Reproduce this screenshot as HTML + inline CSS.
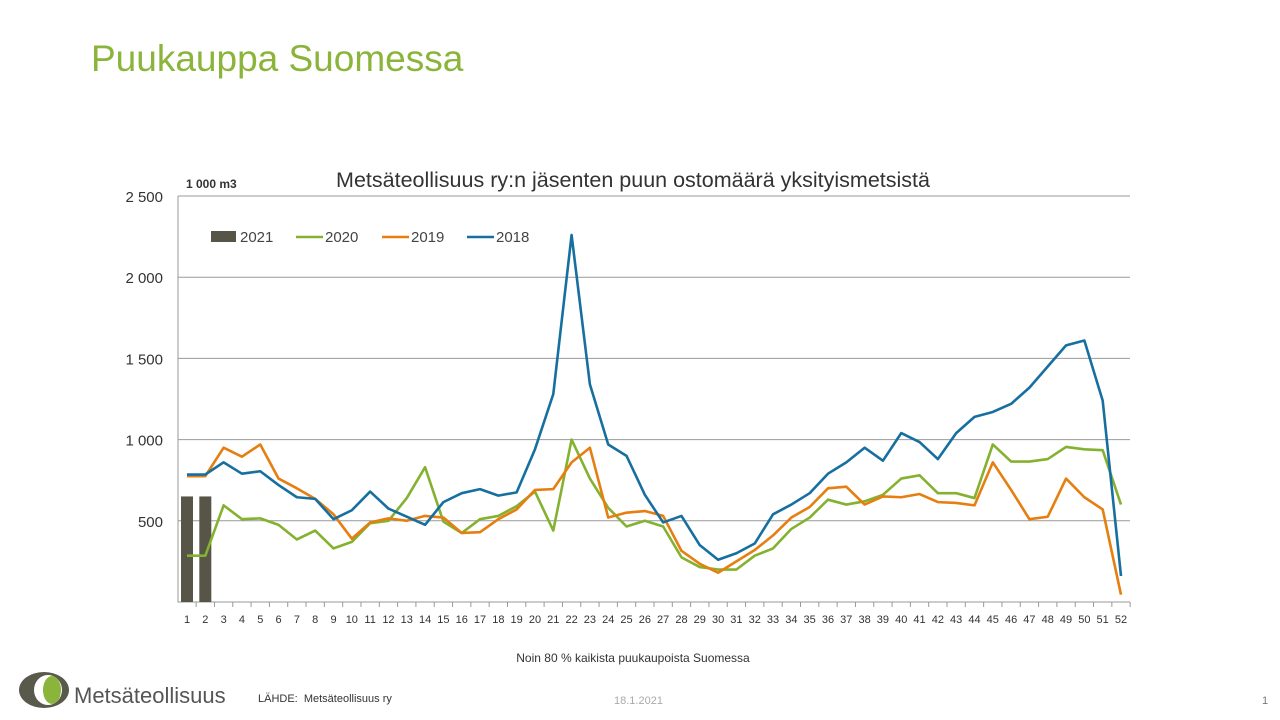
<!DOCTYPE html>
<html><head><meta charset="utf-8"><style>
body{margin:0;width:1280px;height:720px;background:#fff;font-family:"Liberation Sans",sans-serif;overflow:hidden;position:relative}
.t{position:absolute;white-space:nowrap}
</style></head><body>
<div class="t" style="left:91px;top:38px;font-size:37px;color:#8ab43a">Puukauppa Suomessa</div>
<svg id="chart" width="1280" height="720" style="position:absolute;left:0;top:0"></svg>
<div class="t" style="left:18px;top:671px;">
<svg width="52" height="38"><ellipse cx="26" cy="19" rx="25" ry="18" fill="#5a5a4c"/><ellipse cx="30" cy="19" rx="14" ry="15" fill="#fff"/><ellipse cx="34" cy="19" rx="9" ry="14" fill="#8ab43a"/></svg></div>
<div class="t" style="left:74px;top:683px;font-size:22px;color:#555">Metsäteollisuus</div>
<div class="t" style="left:258px;top:693px;font-size:11px;color:#333">LÄHDE:&nbsp; Metsäteollisuus ry</div>
<div class="t" style="left:614px;top:695px;font-size:11px;color:#aaa">18.1.2021</div>
<div class="t" style="left:1262px;top:695px;font-size:11px;color:#777">1</div>
<script>
const weeks=[];for(let i=1;i<=52;i++)weeks.push(i);
const s2018=[785,785,860,790,805,720,645,635,510,565,680,575,525,475,615,670,695,655,675,940,1280,2260,1340,970,900,660,490,530,350,260,300,360,540,600,670,790,860,950,870,1040,985,880,1040,1140,1170,1220,1320,1450,1580,1610,1240,160];
const s2019=[775,775,950,895,970,760,700,635,540,390,490,515,500,530,520,425,430,510,570,690,695,860,950,520,550,560,530,315,235,180,250,320,410,520,585,700,710,600,650,645,665,615,610,595,860,690,510,525,760,645,570,45];
const s2020=[285,285,595,510,515,475,385,440,330,370,485,500,640,830,495,425,510,530,590,680,440,1000,760,580,465,500,465,275,215,200,200,285,330,450,520,630,600,620,660,760,780,670,670,640,970,865,865,880,955,940,935,600];
const s2021=[650,650];
const yTicks=[500,1000,1500,2000,2500];
const yTickLabels=["500","1 000","1 500","2 000","2 500"];
const NS="http://www.w3.org/2000/svg";const svg=document.getElementById('chart');
const x0=178,x1=1130,yb=602,yt=196;
const xs=w=>187+(w-1)*(1121-187)/51;
const ys=v=>yb-v*(yb-yt)/2500;
function mk(t,a,p){const e=document.createElementNS(NS,t);for(const k in a)e.setAttribute(k,a[k]);(p||svg).appendChild(e);return e;}
yTicks.forEach((v,i)=>{
 const l=mk('line',{x1:x0,x2:x1,y1:ys(v),y2:ys(v),stroke:'#999','stroke-width':1});
 
 
 const t=mk('text',{x:163,y:ys(v)+6,'text-anchor':'end','font-size':15,fill:'#333'});t.textContent=yTickLabels[i];
 
 
});
const ax=mk('path',{d:`M${x0} ${yt}V${yb}H${x1}`,stroke:'#999',fill:'none'});


weeks.forEach(w=>{
 const tx=xs(w)+9.15;mk('line',{x1:tx,x2:tx,y1:yb,y2:yb+5,stroke:'#999'});
 const t=mk('text',{x:xs(w),y:623,'text-anchor':'middle','font-size':11,fill:'#333'});t.textContent=w;
 
 
});
s2021.forEach((v,i)=>{
 const r=mk('rect',{x:xs(i+1)-6,y:ys(v),width:12,height:yb-ys(v),fill:'#565548'});
 
 
});
[[s2020,'#84b230','line-2020'],[s2019,'#e67e10','line-2019'],[s2018,'#176fa0','line-2018']].forEach(([d,c,n])=>{
 const p=mk('polyline',{points:d.map((v,i)=>xs(i+1)+','+ys(v)).join(' '),fill:'none',stroke:c,'stroke-width':2.6,'stroke-linejoin':'round'});
 
 
});
const legend=[['2021','#565548',211,true],['2020','#84b230',296],['2019','#e67e10',382],['2018','#176fa0',467]];
legend.forEach(([n,c,x,bar])=>{
 const g=mk('g',{});
 
 
 if(bar)mk('rect',{x:x,y:231,width:25,height:11,fill:c},g);else mk('line',{x1:x,x2:x+27,y1:237,y2:237,stroke:c,'stroke-width':2.6},g);
 const t=mk('text',{x:x+29,y:242,'font-size':15,fill:'#444'},g);t.textContent=n;
});
const ti=mk('text',{x:633,y:187,'text-anchor':'middle','font-size':21.5,fill:'#333'});ti.textContent='Metsäteollisuus ry:n jäsenten puun ostomäärä yksityismetsistä';


const un=mk('text',{x:186,y:188,'font-size':12,'font-weight':'bold',fill:'#333'});un.textContent='1 000 m3';


const fn=mk('text',{x:633,y:662,'text-anchor':'middle','font-size':12,fill:'#333'});fn.textContent='Noin 80 % kaikista puukaupoista Suomessa';


</script>
</body></html>
